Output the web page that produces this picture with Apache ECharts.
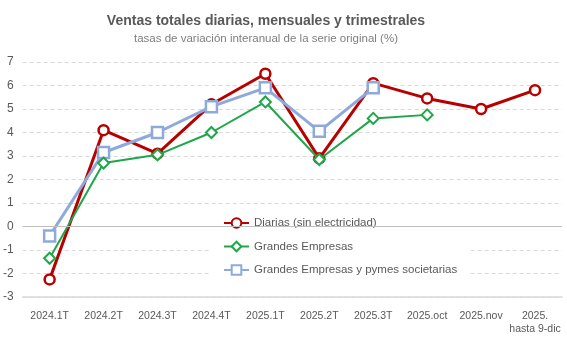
<!DOCTYPE html>
<html><head><meta charset="utf-8">
<script src="https://cdn.jsdelivr.net/npm/echarts@6/dist/echarts.min.js"></script>
<style>html,body{margin:0;padding:0;background:#fff}#c{width:567px;height:340px}</style>
</head><body><div id="c"></div>
<script>
const categories = ['2024.1T','2024.2T','2024.3T','2024.4T','2025.1T','2025.2T','2025.3T','2025.oct','2025.nov','2025.\nhasta 9-dic'];
const diarias = [-2.25, 4.1, 3.1, 5.2, 6.5, 2.9, 6.1, 5.45, 5.0, 5.8];
const grandes = [-1.35, 2.7, 3.05, 4.0, 5.3, 2.85, 4.6, 4.75, null, null];
const pymes = [-0.4, 3.15, 4.0, 5.1, 5.9, 4.05, 5.9, null, null, null];
const yTicks = [-3, 7, 1];
const FONT = '"Liberation Sans", Arial, sans-serif';
const chart = echarts.init(document.getElementById('c'));
chart.setOption({
  animation: false,
  textStyle: {fontFamily: FONT},
  title: {
    text: 'Ventas totales diarias, mensuales y trimestrales',
    subtext: 'tasas de variación interanual de la serie original (%)',
    left: 261, textAlign: 'center', top: 9, itemGap: 5,
    textStyle: {fontFamily: FONT, fontSize: 14, fontWeight: 'bold', color: '#595959'},
    subtextStyle: {fontFamily: FONT, fontSize: 11.5, color: '#7f7f7f'}
  },
  grid: {left: 22, right: 5, top: 62, bottom: 43},
  legend: {
    orient: 'vertical', left: 210, top: 213,
    backgroundColor: '#fff', padding: [4, 12, 8, 13], itemGap: 11.5,
    itemWidth: 25, itemHeight: 12,
    textStyle: {fontFamily: FONT, fontSize: 11.5, color: '#595959'},
    data: ['Diarias (sin electricidad)', 'Grandes Empresas', 'Grandes Empresas y pymes societarias']
  },
  xAxis: {
    type: 'category', data: categories, boundaryGap: true,
    axisLine: {onZero: false, lineStyle: {color: '#d9d9d9', width: 1.5}},
    axisTick: {show: false},
    axisLabel: {interval: 0, color: '#595959', fontSize: 10.5, margin: 13, lineHeight: 13, fontFamily: FONT}
  },
  yAxis: {
    type: 'value', min: yTicks[0], max: yTicks[1], interval: yTicks[2],
    axisLine: {show: false}, axisTick: {show: false},
    axisLabel: {color: '#595959', fontSize: 12, margin: 9, fontFamily: FONT},
    splitLine: {lineStyle: {color: '#d9d9d9', type: [4, 3]}}
  },
  series: [
    {name: 'Diarias (sin electricidad)', type: 'line', data: diarias, z: 3,
     symbol: 'circle', symbolSize: 10, color: '#b80000',
     lineStyle: {width: 3, color: '#b80000'},
     itemStyle: {color: '#fff', borderColor: '#b80000', borderWidth: 2.5},
     markLine: {silent: true, symbol: 'none', label: {show: false},
       lineStyle: {color: '#bfbfbf', type: 'solid', width: 1.2}, data: [{yAxis: 0}]}},
    {name: 'Grandes Empresas', type: 'line', data: grandes, z: 4,
     symbol: 'diamond', symbolSize: 11, color: '#1fa64a',
     lineStyle: {width: 2, color: '#1fa64a'},
     itemStyle: {color: '#fff', borderColor: '#1fa64a', borderWidth: 2}},
    {name: 'Grandes Empresas y pymes societarias', type: 'line', data: pymes, z: 3,
     symbol: 'rect', symbolSize: 11, color: '#8eaadb',
     lineStyle: {width: 3, color: '#8eaadb'},
     itemStyle: {color: '#fff', borderColor: '#8eaadb', borderWidth: 2.5}}
  ]
});
</script></body></html>
